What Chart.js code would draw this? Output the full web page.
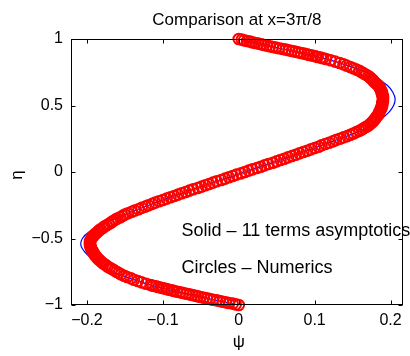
<!DOCTYPE html>
<html>
<head>
<meta charset="utf-8">
<script src="https://cdn.jsdelivr.net/npm/chart.js@4/dist/chart.umd.min.js"></script>
<style>
  html, body { margin: 0; padding: 0; background: #fff; }
  #box { width: 410px; height: 356px; position: relative; }
</style>
</head>
<body>
<div id="box"><canvas id="psiChart"></canvas></div>
<script>
// 11 terms asymptotics (solid line), eta -> psi
const asymEta = [1.00, 0.95, 0.90, 0.85, 0.80, 0.75, 0.70, 0.65, 0.60, 0.55, 0.50, 0.45, 0.40, 0.35, 0.30, 0.25, 0.20, 0.15, 0.10, 0.05, 0.00,
    -0.05, -0.10, -0.15, -0.20, -0.25, -0.30, -0.35, -0.40, -0.45, -0.50, -0.55, -0.60, -0.65, -0.70, -0.75, -0.80, -0.85, -0.90, -0.95, -1.00];
const asymPsi = [0.000, 0.037, 0.078, 0.115, 0.144, 0.168, 0.184, 0.196, 0.203, 0.206, 0.204, 0.198, 0.188, 0.174, 0.156, 0.133, 0.109, 0.085, 0.060, 0.034, 0.008,
    -0.018, -0.044, -0.070, -0.095, -0.119, -0.141, -0.162, -0.180, -0.197, -0.206, -0.208, -0.203, -0.194, -0.182, -0.165, -0.143, -0.116, -0.081, -0.042, 0.000];

// numerics (circles) - finer near the ends
const numEta = [
    1.000, 0.995, 0.990, 0.985, 0.980, 0.975, 0.970, 0.965, 0.960, 0.955, 0.950, 0.945, 0.940, 0.935, 0.930, 0.925,
    0.920, 0.915, 0.910, 0.905, 0.900, 0.895, 0.890, 0.885, 0.880, 0.875, 0.870, 0.865, 0.860, 0.855, 0.850,
    0.84, 0.83, 0.82, 0.81, 0.80, 0.79, 0.78, 0.77, 0.76, 0.75, 0.74, 0.73, 0.72, 0.71, 0.70, 0.69, 0.68, 0.67, 0.66, 0.65,
    0.64, 0.63, 0.62, 0.61, 0.60, 0.59, 0.58, 0.57, 0.56, 0.55, 0.54, 0.53, 0.52, 0.51, 0.50, 0.49, 0.48, 0.47, 0.46, 0.45,
    0.44, 0.43, 0.42, 0.41, 0.40, 0.39, 0.38, 0.37, 0.36, 0.35, 0.34, 0.33, 0.32, 0.31, 0.30, 0.29, 0.28, 0.27, 0.26, 0.25,
    0.24, 0.23, 0.22, 0.21, 0.20, 0.19, 0.18, 0.17, 0.16, 0.15, 0.14, 0.13, 0.12, 0.11, 0.10, 0.09, 0.08, 0.07, 0.06, 0.05,
    0.04, 0.03, 0.02, 0.01, 0.00,
    -0.01, -0.02, -0.03, -0.04, -0.05, -0.06, -0.07, -0.08, -0.09, -0.10, -0.11, -0.12, -0.13, -0.14, -0.15, -0.16, -0.17, -0.18, -0.19, -0.20,
    -0.21, -0.22, -0.23, -0.24, -0.25, -0.26, -0.27, -0.28, -0.29, -0.30, -0.31, -0.32, -0.33, -0.34, -0.35, -0.36, -0.37, -0.38, -0.39, -0.40,
    -0.41, -0.42, -0.43, -0.44, -0.45, -0.46, -0.47, -0.48, -0.49, -0.50, -0.51, -0.52, -0.53, -0.54, -0.55, -0.56, -0.57, -0.58, -0.59, -0.60,
    -0.61, -0.62, -0.63, -0.64, -0.65, -0.66, -0.67, -0.68, -0.69, -0.70, -0.71, -0.72, -0.73, -0.74, -0.75, -0.76, -0.77, -0.78, -0.79, -0.80,
    -0.81, -0.82, -0.83, -0.84,
    -0.850, -0.855, -0.860, -0.865, -0.870, -0.875, -0.880, -0.885, -0.890, -0.895, -0.900, -0.905, -0.910, -0.915, -0.920, -0.925,
    -0.930, -0.935, -0.940, -0.945, -0.950, -0.955, -0.960, -0.965, -0.970, -0.975, -0.980, -0.985, -0.990, -0.995, -1.000];
const numPsi = [
    0.000, 0.004, 0.007, 0.011, 0.015, 0.018, 0.022, 0.026, 0.030, 0.033, 0.037, 0.041, 0.045, 0.049, 0.053, 0.058,
    0.062, 0.066, 0.070, 0.074, 0.078, 0.082, 0.086, 0.090, 0.093, 0.097, 0.101, 0.104, 0.108, 0.111, 0.115,
    0.121, 0.127, 0.133, 0.138, 0.142, 0.147, 0.151, 0.155, 0.159, 0.162, 0.165, 0.168, 0.171, 0.173, 0.175, 0.177, 0.178, 0.180, 0.182, 0.184,
    0.185, 0.186, 0.187, 0.188, 0.188, 0.189, 0.189, 0.190, 0.190, 0.190, 0.190, 0.190, 0.189, 0.189, 0.189, 0.188, 0.188, 0.187, 0.186, 0.185,
    0.185, 0.184, 0.182, 0.181, 0.180, 0.178, 0.177, 0.175, 0.173, 0.171, 0.168, 0.165, 0.162, 0.159, 0.155, 0.151, 0.147, 0.143, 0.138, 0.133,
    0.128, 0.124, 0.119, 0.114, 0.109, 0.105, 0.100, 0.095, 0.090, 0.085, 0.080, 0.075, 0.070, 0.065, 0.060, 0.055, 0.050, 0.045, 0.039, 0.034,
    0.029, 0.024, 0.018, 0.013, 0.008,
    0.003, -0.003, -0.008, -0.013, -0.018, -0.023, -0.029, -0.034, -0.039, -0.044, -0.049, -0.054, -0.060, -0.065, -0.070, -0.075, -0.080, -0.085, -0.090, -0.095,
    -0.100, -0.105, -0.110, -0.114, -0.119, -0.123, -0.128, -0.132, -0.137, -0.141, -0.146, -0.150, -0.153, -0.156, -0.160, -0.163, -0.166, -0.168, -0.171, -0.174,
    -0.177, -0.179, -0.182, -0.184, -0.186, -0.188, -0.190, -0.191, -0.193, -0.194, -0.195, -0.196, -0.196, -0.196, -0.196, -0.195, -0.195, -0.194, -0.193, -0.192,
    -0.191, -0.190, -0.189, -0.187, -0.186, -0.184, -0.182, -0.180, -0.178, -0.175, -0.173, -0.170, -0.167, -0.164, -0.161, -0.158, -0.155, -0.151, -0.147, -0.142,
    -0.138, -0.133, -0.128, -0.122,
    -0.116, -0.113, -0.109, -0.106, -0.102, -0.099, -0.095, -0.092, -0.088, -0.085, -0.081, -0.077, -0.073, -0.069, -0.065, -0.061,
    -0.057, -0.054, -0.050, -0.046, -0.042, -0.038, -0.034, -0.029, -0.025, -0.021, -0.017, -0.013, -0.008, -0.004, 0.000];

const xTicks = [-0.2, -0.1, 0, 0.1, 0.2];
const yTicks = [-1, -0.5, 0, 0.5, 1];

const FONT = "'Liberation Sans', Arial, Helvetica, sans-serif";
const minus = (v) => String(v).replace("-", "\u2212");

document.addEventListener("DOMContentLoaded", function () {
    const ctx = document.getElementById("psiChart").getContext("2d");

    // box, inward ticks (matlab style) and the text bits
    const frame = {
        id: "frame",
        afterDraw(chart) {
            const c = chart.ctx;
            const a = chart.chartArea;
            const xs = chart.scales.x;
            const ys = chart.scales.y;
            const L = Math.round(a.left) + 0.5, R = Math.round(a.right) - 0.5;
            const T = Math.round(a.top) + 0.5, B = Math.round(a.bottom) - 0.5;
            c.save();
            c.fillStyle = "#000";
            c.font = "18px " + FONT;
            c.textAlign = "left";
            c.textBaseline = "alphabetic";
            c.fillText("Solid \u2013 11 terms asymptotics", xs.getPixelForValue(-0.0753), ys.getPixelForValue(-0.481));
            c.fillText("Circles \u2013 Numerics", xs.getPixelForValue(-0.0753), ys.getPixelForValue(-0.757));

            c.strokeStyle = "#000";
            c.lineWidth = 1;
            c.beginPath();
            xTicks.forEach(function (v) {
                const px = Math.round(xs.getPixelForValue(v)) + 0.5;
                c.moveTo(px, B); c.lineTo(px, B - 4);
                c.moveTo(px, T); c.lineTo(px, T + 4);
            });
            yTicks.forEach(function (v) {
                const py = Math.round(ys.getPixelForValue(v)) + 0.5;
                c.moveTo(L, py); c.lineTo(L + 4, py);
                c.moveTo(R, py); c.lineTo(R - 4, py);
            });
            c.stroke();
            c.strokeRect(L, T, R - L, B - T);

            // title and axis labels
            c.textAlign = "center";
            c.font = "17px " + FONT;
            c.fillText("Comparison at x=3\u03c0/8", (a.left + a.right) / 2, 24.5);
            c.fillText("\u03c8", xs.getPixelForValue(0), 347);
            c.translate(17, (a.top + a.bottom) / 2 + 3);
            c.rotate(-Math.PI / 2);
            c.textBaseline = "middle";
            c.fillText("\u03b7", 0, 0);
            c.restore();
        }
    };

    const chart = new Chart(ctx, {
        type: "scatter",
        data: {
            datasets: [
                {
                    label: "Circles - Numerics",
                    data: numEta.map((e, i) => ({ x: numPsi[i], y: e })),
                    showLine: false,
                    pointStyle: "circle",
                    pointRadius: 5.3,
                    pointBorderWidth: 2,
                    pointBorderColor: "#ff0000",
                    pointBackgroundColor: "rgba(0,0,0,0)",
                    clip: false,
                    order: 0,
                },
                {
                    label: "Solid - 11 terms asymptotics",
                    data: asymEta.map((e, i) => ({ x: asymPsi[i], y: e })),
                    showLine: true,
                    borderColor: "#0000ff",
                    borderWidth: 1.2,
                    pointRadius: 0,
                    tension: 0.3,
                    order: 1,
                },
            ],
        },
        options: {
            responsive: true,
            maintainAspectRatio: false,
            animation: false,
            layout: { padding: { top: 39, right: 3, left: 0, bottom: 0 } },
            scales: {
                x: {
                    type: "linear",
                    min: -0.221,
                    max: 0.216,
                    afterBuildTicks: (s) => { s.ticks = xTicks.map((v) => ({ value: v })); },
                    afterFit: (s) => { s.height = 51; },
                    grid: { display: false, drawTicks: false },
                    border: { display: false },
                    ticks: {
                        color: "#000",
                        font: { family: FONT, size: 16 },
                        padding: 6,
                        maxRotation: 0,
                        callback: (v) => minus(v),
                    },
                },
                y: {
                    type: "linear",
                    min: -1,
                    max: 1,
                    afterBuildTicks: (s) => { s.ticks = yTicks.map((v) => ({ value: v })); },
                    afterFit: (s) => { s.width = 71; },
                    grid: { display: false, drawTicks: false },
                    border: { display: false },
                    ticks: {
                        color: "#000",
                        font: { family: FONT, size: 16 },
                        padding: 8,
                        callback: (v) => minus(v),
                    },
                },
            },
            plugins: {
                legend: { display: false },
                title: { display: false },
                tooltip: { enabled: false },
            },
        },
        plugins: [frame],
    });
});
</script>
</body>
</html>
